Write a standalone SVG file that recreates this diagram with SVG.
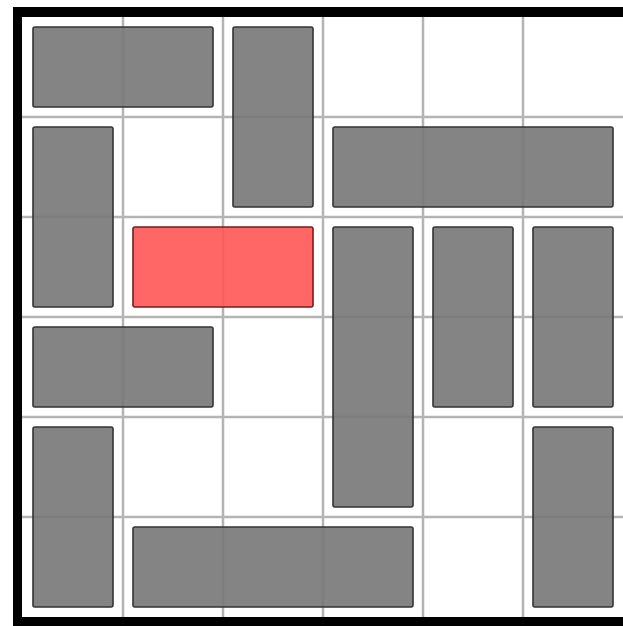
<svg xmlns="http://www.w3.org/2000/svg" width="623" height="626" viewBox="0 0 623 626">
<style>
.grid{stroke:#b4b4b4;stroke-width:2.5;fill:none}
.car{fill:#777;fill-opacity:0.9;stroke:#333;stroke-width:1.6}
.target{fill:#ff5555;fill-opacity:0.9;stroke:#7a1a1a;stroke-width:1.6}
.border{fill:#000}
</style>
<rect width="623" height="626" fill="#fff"/>
<g id="grid" class="grid">
<line x1="123" y1="17" x2="123" y2="617"/>
<line x1="223" y1="17" x2="223" y2="617"/>
<line x1="323" y1="17" x2="323" y2="617"/>
<line x1="423" y1="17" x2="423" y2="617"/>
<line x1="523" y1="17" x2="523" y2="617"/>
<line x1="22" y1="117" x2="623" y2="117"/>
<line x1="22" y1="217" x2="623" y2="217"/>
<line x1="22" y1="317" x2="623" y2="317"/>
<line x1="22" y1="417" x2="623" y2="417"/>
<line x1="22" y1="517" x2="623" y2="517"/>
</g>
<g id="car1"><rect class="car" x="33" y="27" width="180" height="80" rx="2"/></g>
<g id="car2"><rect class="car" x="233" y="27" width="80" height="180" rx="2"/></g>
<g id="car3"><rect class="car" x="33" y="127" width="80" height="180" rx="2"/></g>
<g id="car4"><rect class="car" x="333" y="127" width="280" height="80" rx="2"/></g>
<g id="target"><rect class="target" x="133" y="227" width="180" height="80" rx="2"/></g>
<g id="car6"><rect class="car" x="333" y="227" width="80" height="280" rx="2"/></g>
<g id="car7"><rect class="car" x="433" y="227" width="80" height="180" rx="2"/></g>
<g id="car8"><rect class="car" x="533" y="227" width="80" height="180" rx="2"/></g>
<g id="car9"><rect class="car" x="33" y="327" width="180" height="80" rx="2"/></g>
<g id="car10"><rect class="car" x="33" y="427" width="80" height="180" rx="2"/></g>
<g id="car11"><rect class="car" x="533" y="427" width="80" height="180" rx="2"/></g>
<g id="car12"><rect class="car" x="133" y="527" width="280" height="80" rx="2"/></g>
<g id="frame">
<rect class="border" x="13" y="7" width="610" height="10"/>
<rect class="border" x="13" y="7" width="9" height="619"/>
<rect class="border" x="13" y="617" width="610" height="9"/>
</g>
</svg>
